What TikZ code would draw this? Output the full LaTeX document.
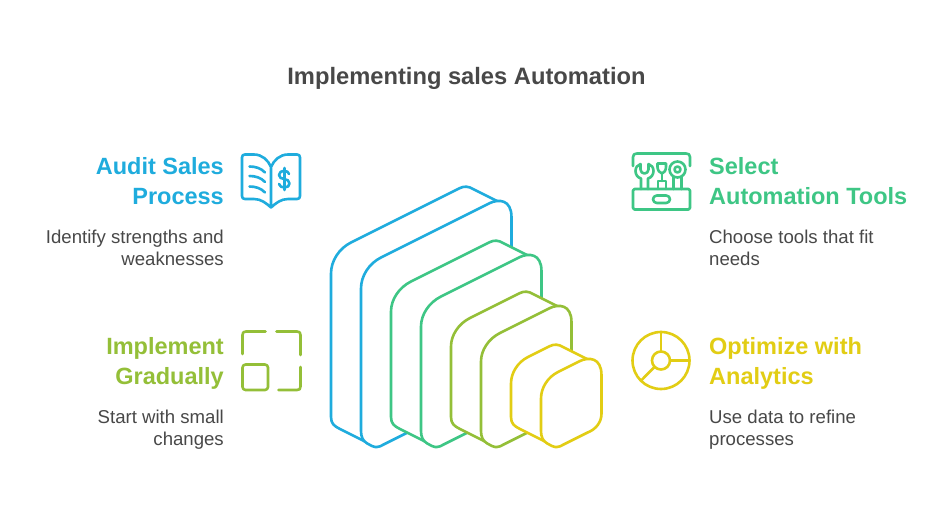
\documentclass[tikz,border=0pt]{standalone}
\usepackage{fontspec}
\setmainfont{Liberation Sans}
\definecolor{cblue}{HTML}{1FACDD}
\definecolor{cgreen}{HTML}{3EC685}
\definecolor{colive}{HTML}{94BF38}
\definecolor{cyellow}{HTML}{E2CD14}
\definecolor{ctext}{HTML}{484848}
\tikzset{
  head/.style={font=\fontsize{23.5}{30}\selectfont\bfseries,inner sep=0pt},
  body/.style={font=\fontsize{18.6}{22}\selectfont,text=ctext,inner sep=0pt},
  lineart/.style={line width=2.6pt,line cap=round,line join=round},
  icon/.style={line width=2.6pt,line cap=round,line join=round},
}
% #1 L, #2 R, #3 yT front top-left, #4 colour, #5 rv, #6 rh
\newcommand{\blockshape}[6]{%
  \pgfmathsetmacro{\F}{#1+30}\pgfmathsetmacro{\W}{#2-\F}
  \pgfmathsetmacro{\yTR}{#3-\W/2}\pgfmathsetmacro{\yBR}{455.8-\W/2}
  \draw[lineart,#4,fill=white]
    (\F+4,441.5) -- (#1+9,429) .. controls (#1+3,426) and (#1,423.5) .. (#1,417)
    -- (#1,#3-15+#5) .. controls (#1,#3-15+0.4*#5) and (#1+0.4*#6,#3-15-0.2*#6) .. (#1+#6,#3-15-0.5*#6)
    -- (#2-52,\yTR-4) .. controls (#2-47,\yTR-6.5) and (#2-43,\yTR-6) .. (#2-38,\yTR-3)
    -- (#2-13,\yTR+9.5);
  \draw[lineart,#4,fill=white]
    (\F,431) -- (\F,#3+#5) .. controls (\F,#3+0.4*#5) and (\F+0.4*#6,#3-0.2*#6) .. (\F+#6,#3-0.5*#6)
    -- (#2-22,\yTR+11) .. controls (#2-13,\yTR+6.5) and (#2,\yTR+7) .. (#2,\yTR+25)
    -- (#2,\yBR-12) .. controls (#2,\yBR-3) and (#2-6,\yBR+4) .. (#2-14,\yBR+7)
    -- (\F+23,444.3) .. controls (\F+20,446) and (\F+18,447) .. (\F+16,447)
    .. controls (\F+13,447.5) and (\F+10,445.5) .. (\F+6,443.3)
    .. controls (\F+2,441) and (\F,437) .. cycle;
}
\begin{document}
\begin{tikzpicture}[x=1pt,y=-1pt]
\useasboundingbox (0,0) rectangle (948,513);
\fill[white] (0,0) rectangle (948,513);

\node[font=\fontsize{23.7}{28}\selectfont\bfseries,text=ctext,inner sep=0pt,anchor=base] (title) at (466.5,85) {Implementing sales Automation};

\blockshape{331}{511.5}{267.5}{cblue}{21}{20}
\blockshape{391}{541.5}{306.5}{cgreen}{20}{20}
\blockshape{451}{571.5}{342.5}{colive}{19}{19}
\blockshape{511}{601.5}{380.5}{cyellow}{18}{17}

% texts
\node[head,text=cblue,align=right,anchor=north east] (t1) at (224,157.5) {Audit Sales\\Process};
\node[body,align=right,anchor=north east] (b1) at (224,230) {Identify strengths and\\weaknesses};
\node[head,text=cgreen,align=left,anchor=north west] (t2) at (709,157.5) {Select\\Automation Tools};
\node[body,align=left,anchor=north west] (b2) at (709,230) {Choose tools that fit\\needs};
\node[head,text=colive,align=right,anchor=north east] (t3) at (224,337.5) {Implement\\Gradually};
\node[body,align=right,anchor=north east] (b3) at (224,410) {Start with small\\changes};
\node[head,text=cyellow,align=left,anchor=north west] (t4) at (709,337.5) {Optimize with\\Analytics};
\node[body,align=left,anchor=north west] (b4) at (709,410) {Use data to refine\\processes};

% book icon
\begin{scope}[icon,cblue]
\draw (271,167) .. controls (268,160) and (262,154.5) .. (254,154.5) -- (245,154.5) .. controls (243,154.5) and (242,155.5) .. (242,157.5)
  -- (242,196) .. controls (242,198) and (243,199) .. (245,199) -- (254,199) .. controls (261,199) and (266,203) .. (271,207.5)
  .. controls (276,203) and (281,199) .. (288,199) -- (297,199) .. controls (299,199) and (300,198) .. (300,196)
  -- (300,157.5) .. controls (300,155.5) and (299,154.5) .. (297,154.5) -- (288,154.5) .. controls (280,154.5) and (274,160) .. (271,167) -- (271,207.5);
\draw (249.5,166.5) .. controls (255,166.5) and (261,168) .. (265,172.5);
\draw (249.5,176) .. controls (255,176) and (261,177.5) .. (265,182);
\draw (249.5,186.5) .. controls (255,186.5) and (261,188) .. (265,192.5);
\draw (289,174) .. controls (288.5,172) and (287,171) .. (284.5,171) .. controls (281,171) and (279,172.5) .. (279,175)
  .. controls (279,181) and (289.5,177) .. (289.5,183.5) .. controls (289.5,186) and (287.5,187.5) .. (284.5,187.5)
  .. controls (282,187.5) and (279.5,186.5) .. (279,184);
\draw (284.5,168) -- (284.5,190);
\end{scope}

% tools icon
\begin{scope}[icon,cgreen]
\draw (633,166) -- (633,157) .. controls (633,154.5) and (634.5,153.5) .. (637,153.5) -- (686,153.5) .. controls (688.5,153.5) and (690,154.5) .. (690,157) -- (690,166);
\draw[rounded corners=1.5pt] (633,189) rectangle (690,209.5);
\draw[rounded corners=3.8pt] (653,195.5) rectangle (670,203);
% wrench
\draw (641,189) -- (641,178.5) .. controls (637.5,177.5) and (635.5,174.5) .. (635.5,171) .. controls (635.5,167.5) and (637.5,165) .. (640.5,164)
 -- (640.5,169.5) .. controls (640.5,172) and (642.5,173.5) .. (644.5,173.5) .. controls (646.5,173.5) and (648.5,172) .. (648.5,169.5)
 -- (648.5,164) .. controls (651.5,165) and (653.5,167.5) .. (653.5,171) .. controls (653.5,174.5) and (651.5,177.5) .. (648,178.5) -- (648,189);
% screwdriver
\draw (657.5,163.5) -- (666,163.5) -- (666,167) .. controls (666,170.5) and (664,173) .. (662,173.5) .. controls (660,173) and (657.5,170.5) .. (657.5,167) -- cycle;
\draw (662,173.5) -- (662,181);
\draw (658,189) -- (658,181) -- (666,181) -- (666,189);
% ring
\draw (677.5,169.5) circle (8);
\draw (677.5,169.5) circle (3);
\draw (673.5,177) -- (673.5,189);
\draw (681.5,177) -- (681.5,189);
\end{scope}

% implement icon
\begin{scope}[icon,colive]
\draw (242.5,354) -- (242.5,335) .. controls (242.5,332.5) and (243.5,331.5) .. (246,331.5) -- (265.5,331.5);
\draw (276.5,331.5) -- (297,331.5) .. controls (299.5,331.5) and (300.5,332.5) .. (300.5,335) -- (300.5,355);
\draw[rounded corners=3pt] (242.5,364.5) rectangle (268,390);
\draw (278.5,390) -- (297,390) .. controls (299.5,390) and (300.5,389) .. (300.5,386.5) -- (300.5,367);
\end{scope}

% analytics icon
\begin{scope}[icon,cyellow]
\draw (661,360.5) circle (28.5);
\draw (661,360.5) circle (9);
\draw (661,332) -- (661,351.5);
\draw (670,360.5) -- (689.5,360.5);
\draw (654.6,366.9) -- (641,380.6);
\end{scope}
\end{tikzpicture}
\end{document}
